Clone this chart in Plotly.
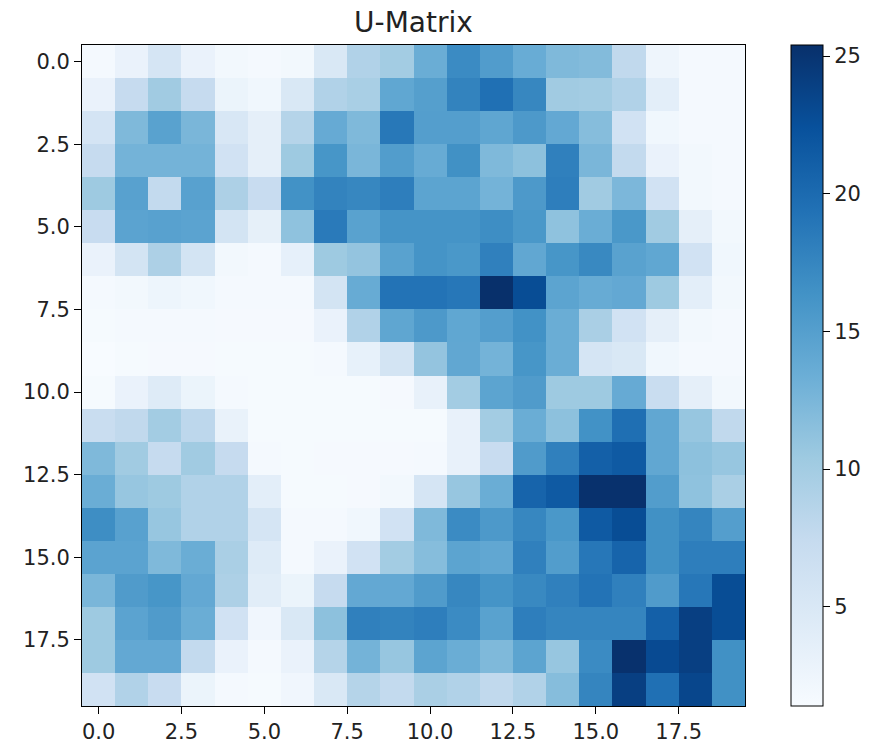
import plotly.graph_objects as go

# U-Matrix values (rows 0..19 top to bottom, columns 0..19 left to right)
row_00 = [1.8, 3.0, 5.5, 3.0, 2.0, 1.8, 2.0, 5.0, 9.0, 10.0, 13.5, 17.0, 15.3, 13.6, 12.2, 12.0, 7.8, 2.5, 1.8, 1.8]
row_01 = [3.0, 7.4, 10.2, 7.4, 2.8, 2.2, 5.0, 9.0, 9.6, 14.2, 15.0, 17.8, 19.5, 17.4, 10.2, 10.0, 9.0, 3.8, 1.8, 1.8]
row_02 = [5.7, 12.2, 14.7, 12.5, 5.2, 3.6, 8.7, 13.8, 12.2, 18.8, 15.1, 15.1, 14.3, 15.6, 14.0, 11.8, 6.0, 2.2, 1.8, 1.8]
row_03 = [7.4, 12.9, 12.9, 12.9, 6.0, 3.6, 10.4, 16.0, 12.5, 15.2, 13.7, 16.5, 12.2, 11.4, 18.0, 12.5, 7.6, 3.0, 2.0, 1.8]
row_04 = [10.4, 14.8, 7.6, 14.8, 9.3, 7.2, 16.4, 17.8, 17.4, 18.2, 14.5, 14.5, 12.9, 15.6, 18.2, 10.2, 12.4, 6.0, 2.0, 1.8]
row_05 = [7.2, 14.6, 14.8, 14.6, 5.8, 3.5, 11.3, 18.6, 14.7, 16.2, 16.2, 16.2, 16.8, 15.8, 11.3, 13.5, 15.8, 10.2, 3.6, 2.0]
row_06 = [3.0, 5.8, 9.3, 5.8, 2.0, 1.8, 3.4, 10.4, 11.0, 14.7, 16.2, 15.8, 18.0, 14.1, 16.0, 17.2, 14.7, 14.2, 6.0, 2.2]
row_07 = [1.8, 2.0, 2.6, 2.2, 1.8, 1.8, 1.8, 5.8, 13.7, 19.2, 19.2, 18.9, 25.4, 22.8, 14.5, 13.7, 14.0, 10.4, 3.8, 2.0]
row_08 = [1.6, 1.8, 1.8, 1.8, 1.7, 1.7, 1.7, 3.0, 9.0, 14.3, 15.6, 14.2, 15.1, 16.4, 13.5, 9.5, 6.0, 3.6, 2.0, 1.8]
row_09 = [1.4, 1.6, 1.7, 1.7, 1.6, 1.6, 1.6, 1.8, 3.3, 5.8, 11.0, 14.1, 12.9, 16.0, 13.5, 5.5, 5.0, 2.2, 1.8, 1.8]
row_10 = [1.6, 3.0, 4.4, 2.8, 1.8, 1.6, 1.6, 1.6, 1.6, 1.7, 3.2, 10.0, 14.5, 15.4, 10.4, 10.4, 13.8, 7.0, 3.6, 2.0]
row_11 = [7.0, 7.8, 10.0, 8.1, 3.1, 1.6, 1.6, 1.6, 1.6, 1.6, 1.6, 3.2, 10.0, 13.5, 11.4, 16.4, 19.6, 14.1, 10.8, 7.8]
row_12 = [12.2, 10.2, 7.4, 10.2, 7.4, 1.8, 1.6, 1.7, 1.7, 1.7, 1.8, 3.2, 7.2, 15.4, 18.0, 21.0, 21.6, 14.1, 11.4, 10.8]
row_13 = [13.5, 10.8, 10.4, 9.0, 9.0, 3.8, 1.6, 1.6, 1.7, 2.0, 5.5, 10.8, 13.5, 20.6, 21.6, 25.3, 25.3, 15.2, 11.3, 9.5]
row_14 = [16.8, 14.8, 10.8, 9.0, 9.0, 5.5, 1.8, 1.8, 2.2, 6.0, 12.2, 17.0, 15.6, 17.4, 15.8, 21.6, 22.8, 16.5, 17.6, 15.1]
row_15 = [14.6, 14.6, 12.2, 13.5, 9.5, 4.4, 1.8, 3.0, 6.0, 10.0, 11.8, 14.5, 14.1, 18.0, 15.2, 18.9, 20.6, 16.5, 18.2, 18.2]
row_16 = [12.5, 15.4, 16.0, 14.0, 9.3, 4.0, 2.8, 7.4, 14.0, 14.0, 15.4, 17.4, 16.2, 17.2, 18.0, 19.2, 18.0, 15.4, 18.9, 22.8]
row_17 = [10.4, 14.6, 15.4, 13.5, 6.0, 2.3, 5.0, 11.4, 18.0, 17.8, 18.2, 17.0, 14.7, 18.2, 17.6, 17.6, 17.6, 21.0, 24.0, 22.8]
row_18 = [10.4, 14.0, 14.0, 7.6, 3.0, 1.8, 3.0, 8.7, 12.9, 10.8, 14.5, 13.5, 12.2, 14.5, 10.8, 17.0, 25.3, 23.0, 24.0, 16.5]
row_19 = [6.0, 9.0, 7.2, 2.8, 1.8, 1.6, 2.3, 5.0, 8.7, 7.6, 9.5, 9.0, 7.8, 9.0, 11.8, 17.6, 24.0, 19.5, 23.4, 16.5]

z = [row_00, row_01, row_02, row_03, row_04, row_05, row_06, row_07, row_08, row_09,
     row_10, row_11, row_12, row_13, row_14, row_15, row_16, row_17, row_18, row_19]

tick_vals = [0, 2.5, 5, 7.5, 10, 12.5, 15, 17.5]
tick_text = ["0.0", "2.5", "5.0", "7.5", "10.0", "12.5", "15.0", "17.5"]
cbar_ticks = [5, 10, 15, 20, 25]

blues = [
    [0.0, "#f7fbff"], [0.125, "#deebf7"], [0.25, "#c6dbef"], [0.375, "#9ecae1"],
    [0.5, "#6baed6"], [0.625, "#4292c6"], [0.75, "#2171b5"], [0.875, "#08519c"],
    [1.0, "#08306b"],
]

fig = go.Figure(go.Heatmap(
    z=z,
    colorscale=blues,
    zmin=1.4, zmax=25.4,
    colorbar=dict(
        x=1.069, xanchor="left", xref="paper",
        y=0.5, yanchor="middle", len=1.0, lenmode="fraction",
        thickness=32, outlinewidth=1, outlinecolor="black",
        ticks="outside", ticklen=7, tickcolor="black",
        tickvals=cbar_ticks, tickfont=dict(size=21, color="#222"),
        xpad=0, ypad=0,
    ),
))

axis_common = dict(
    showline=True, mirror=True, linecolor="black", linewidth=1,
    ticks="outside", ticklen=7, tickcolor="black",
    tickvals=tick_vals, ticktext=tick_text,
    showgrid=False, zeroline=False,
    tickfont=dict(size=21, color="#222"),
)

fig.update_layout(
    width=875, height=756,
    margin=dict(l=82, r=130, t=45, b=48),
    paper_bgcolor="white", plot_bgcolor="white",
    font=dict(family="DejaVu Sans", color="#222"),
    title=dict(text="U-Matrix", x=(82 + 745) / 2 / 875, xanchor="center",
               y=1 - 22 / 756, yanchor="middle", font=dict(size=28, color="#222")),
    xaxis=dict(range=[-0.5, 19.5], **axis_common),
    yaxis=dict(range=[19.5, -0.5], **axis_common),
)

fig.write_html("out.html")
